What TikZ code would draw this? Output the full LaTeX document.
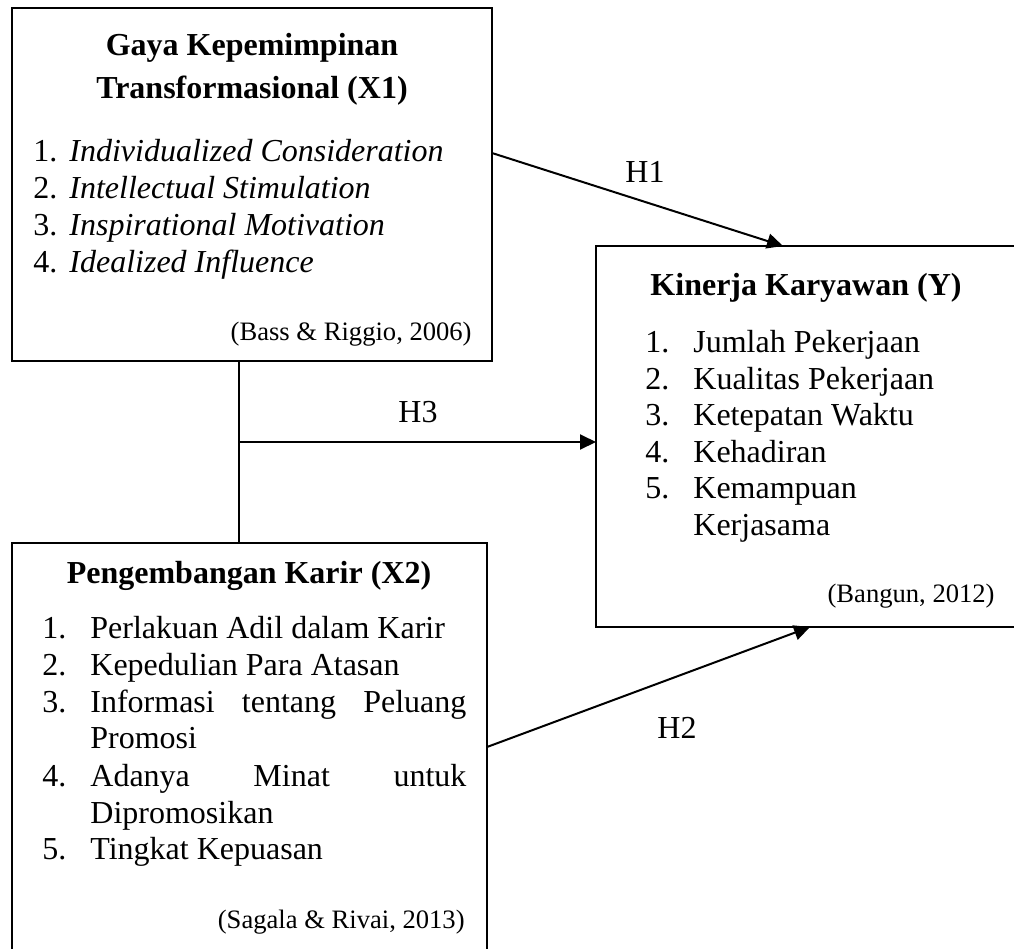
\documentclass[tikz,border=0pt]{standalone}
\usepackage{fontspec}
\setmainfont{Liberation Serif}
\usetikzlibrary{calc,arrows.meta}
\tikzset{
  box/.style={draw, line width=1pt, anchor=north west, inner sep=0pt, outer sep=0pt},
  ln/.style={inner sep=0pt, anchor=base west, font=\fontsize{16}{18}\selectfont},
  ttl/.style={inner sep=0pt, anchor=base, font=\fontsize{16}{18}\selectfont\bfseries},
  cite/.style={inner sep=0pt, anchor=base east, font=\fontsize{13.3}{15}\selectfont},
  hlab/.style={inner sep=0pt, font=\fontsize{16}{18}\selectfont},
  conn/.style={line width=1pt},
  arr/.style={line width=1pt, -{Triangle[length=8pt,width=7.5pt]}}
}
\begin{document}
\begin{tikzpicture}[x=0.5pt,y=-0.5pt]
\useasboundingbox (0,0) rectangle (1014,949);
\clip (0,0) rectangle (1014,949);
% boxes
\node[box, minimum width=240pt, minimum height=176.75pt] (x1) at (12,7.5) {};
\node[box, minimum width=237.5pt, minimum height=208.5pt] (x2) at (12,543) {};
\node[box, minimum width=214.5pt, minimum height=190.5pt] (y) at (596,246) {};
% X1 text
\node[ttl] (x1t1) at (252,55) {Gaya Kepemimpinan};
\node[ttl] (x1t2) at (252,98) {Transformasional (X1)};
\node[ln] (x1n1) at (33,161) {1.};
\node[ln] (x1i1) at (69,161) {\itshape Individualized Consideration};
\node[ln] (x1n2) at (33,198) {2.};
\node[ln] (x1i2) at (69,198) {\itshape Intellectual Stimulation};
\node[ln] (x1n3) at (33,235) {3.};
\node[ln] (x1i3) at (69,235) {\itshape Inspirational Motivation};
\node[ln] (x1n4) at (33,272) {4.};
\node[ln] (x1i4) at (69,272) {\itshape Idealized Influence};
\node[cite] (x1c) at (472,340) {(Bass \& Riggio, 2006)};
% X2 text
\node[ttl] (x2t) at (249,583) {Pengembangan Karir (X2)};
\node[ln] (x2n1) at (42,638) {1.};
\node[ln] (x2i1) at (90,638) {Perlakuan Adil dalam Karir};
\node[ln] (x2n2) at (42,675) {2.};
\node[ln] (x2i2) at (90,675) {Kepedulian Para Atasan};
\node[ln] (x2n3) at (42,712) {3.};
\node[ln] (x2i3) at (90,712) {\hbox to 188pt{Informasi\hfill tentang\hfill Peluang}};
\node[ln] (x2i3b) at (90,748) {Promosi};
\node[ln] (x2n4) at (42,786) {4.};
\node[ln] (x2i4) at (90,786) {\hbox to 188pt{Adanya\hfill Minat\hfill untuk}};
\node[ln] (x2i4b) at (90,823) {Dipromosikan};
\node[ln] (x2n5) at (42,859) {5.};
\node[ln] (x2i5) at (90,859) {Tingkat Kepuasan};
\node[cite] (x2c) at (465,928) {(Sagala \& Rivai, 2013)};
% Y text
\node[ttl] (yt) at (806,295) {Kinerja Karyawan (Y)};
\node[ln] (yn1) at (645,352) {1.};
\node[ln] (yi1) at (693,352) {Jumlah Pekerjaan};
\node[ln] (yn2) at (645,389) {2.};
\node[ln] (yi2) at (693,389) {Kualitas Pekerjaan};
\node[ln] (yn3) at (645,425) {3.};
\node[ln] (yi3) at (693,425) {Ketepatan Waktu};
\node[ln] (yn4) at (645,462) {4.};
\node[ln] (yi4) at (693,462) {Kehadiran};
\node[ln] (yn5) at (645,498) {5.};
\node[ln] (yi5) at (693,498) {Kemampuan};
\node[ln] (yi5b) at (693,535) {Kerjasama};
\node[cite] (yc) at (995,602) {(Bangun, 2012)};
% connectors
\draw[arr] ($(x1.north east)+(0,145.5)$) -- ($(y.north west)+(187,0)$);
\draw[arr] ($(x2.north east)+(0,204)$) -- ($(y.south west)+(214,0)$);
\draw[conn] ($(x1.south west)+(227,0)$) -- ($(x2.north west)+(227,0)$);
\draw[arr] ($(x1.south west)+(227,81)$) -- ($(y.north west)+(0,196)$);
% labels
\node[hlab] (h1) at (645,172) {H1};
\node[hlab] (h2) at (677,728) {H2};
\node[hlab] (h3) at (418,412) {H3};
\end{tikzpicture}
\end{document}
